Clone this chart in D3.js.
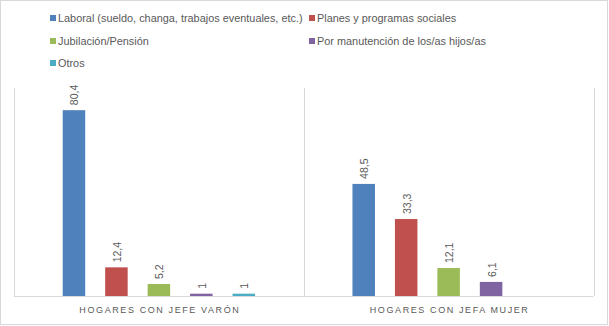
<!DOCTYPE html>
<html><head><meta charset="utf-8">
<script src="https://cdn.jsdelivr.net/npm/d3@7"></script>
<style>body{margin:0;background:#fff}svg{display:block;font-family:"Liberation Sans",Arial,sans-serif}</style>
</head><body>
<script>
const categories = ["HOGARES CON JEFE VARÓN", "HOGARES CON JEFA MUJER"];
const seriesNames = ["Laboral (sueldo, changa, trabajos eventuales, etc.)", "Planes y programas sociales", "Jubilación/Pensión", "Por manutención de los/as hijos/as", "Otros"];
const laboral = [80.4, 48.5];
const planes = [12.4, 33.3];
const jubilacion = [5.2, 12.1];
const manutencion = [1, 6.1];
const otros = [1, null];
const colors = ["#4F81BD", "#C0504D", "#9BBB59", "#8064A2", "#4BACC6"];
const seriesValues = [laboral, planes, jubilacion, manutencion, otros];

const W = 609, H = 326;
const svg = d3.select("body").append("svg").attr("width", W).attr("height", H);
svg.append("rect").attr("x", 0.5).attr("y", 0.5).attr("width", W - 2).attr("height", H - 2)
  .attr("fill", "#fff").attr("stroke", "#d9d9d9");

const plot = {l: 14, r: 593.5, t: 88, b: 296};
const x0 = d3.scaleBand().domain(categories).range([plot.l, plot.r]).padding(0);
const x1 = d3.scaleBand().domain(seriesNames).range([0, x0.bandwidth()]).paddingInner(0.47).paddingOuter(1.147);
const y = d3.scaleLinear().domain([0, 90]).range([plot.b, plot.t]);

const bounds = [plot.l, ...categories.map(c => x0(c) + x0.bandwidth())];
svg.selectAll("line.grid").data(bounds).join("line")
  .attr("x1", d => Math.round(d) + 0.5).attr("x2", d => Math.round(d) + 0.5)
  .attr("y1", plot.t).attr("y2", plot.b).attr("stroke", "#d9d9d9");

const data = [];
categories.forEach((c, ci) => seriesNames.forEach((s, si) => {
  const v = seriesValues[si][ci];
  if (v != null) data.push({c, s, v, color: colors[si]});
}));

svg.selectAll("rect.bar").data(data).join("rect")
  .attr("x", d => x0(d.c) + x1(d.s)).attr("width", x1.bandwidth())
  .attr("y", d => y(d.v)).attr("height", d => y(0) - y(d.v)).attr("fill", d => d.color);

svg.selectAll("text.lbl").data(data).join("text")
  .attr("transform", d => `translate(${x0(d.c) + x1(d.s) + x1.bandwidth() / 2 + 0.5},${y(d.v) - 5}) rotate(-90)`)
  .attr("dominant-baseline", "central").attr("text-anchor", "start")
  .attr("fill", "#595959").attr("font-size", 10.5)
  .text(d => String(d.v).replace(".", ","));

svg.append("line").attr("x1", plot.l).attr("x2", plot.r).attr("y1", plot.b + 0.5).attr("y2", plot.b + 0.5).attr("stroke", "#d9d9d9");

svg.selectAll("text.cat").data(categories).join("text")
  .attr("x", d => x0(d) + x0.bandwidth() / 2 + 1).attr("y", 313)
  .attr("text-anchor", "middle").attr("fill", "#595959").attr("font-size", 9)
  .attr("letter-spacing", 1.6).text(d => d);

const legPos = [[50, 18], [309, 18], [50, 41], [309, 41], [50, 63]];
const leg = svg.selectAll("g.leg").data(seriesNames).join("g")
  .attr("transform", (d, i) => `translate(${legPos[i][0]},${legPos[i][1]})`);
leg.append("rect").attr("x", 0).attr("y", -3).attr("width", 6).attr("height", 6).attr("fill", (d, i) => colors[i]);
leg.append("text").attr("x", 8).attr("y", 0).attr("dominant-baseline", "central")
  .attr("fill", "#595959").attr("font-size", 10.9).text(d => d);
</script>
</body></html>
